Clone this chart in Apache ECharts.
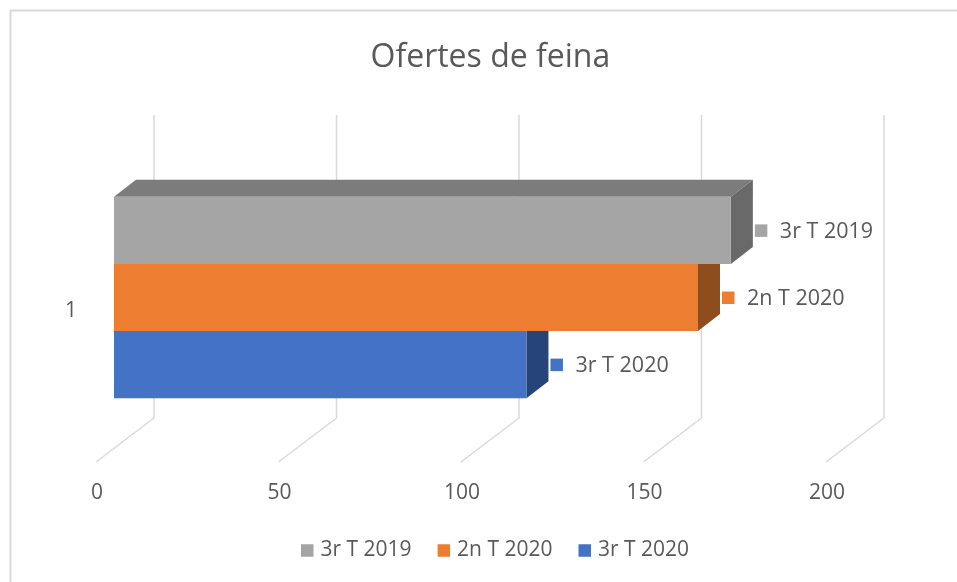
<!DOCTYPE html>
<html><head><meta charset="utf-8">
<style>html,body{margin:0;padding:0;background:#fff}#c{width:957px;height:582px}</style>
<script src="https://cdn.jsdelivr.net/npm/echarts@6/dist/echarts.min.js"></script>
</head><body><div id="c"></div>
<script>
const titleText = 'Ofertes de feina';
const categories = ['1'];
const ticks = [0, 50, 100, 150, 200];
const names = ['3r T 2019', '2n T 2020', '3r T 2020'];
const values2019Q3 = [169];
const values2020Q2 = [160];
const values2020Q3 = [113];
const FONT = '"Open Sans", sans-serif';
const TXT = '#595959';
const GRID = '#D9D9D9';

const chart = echarts.init(document.getElementById('c'), null, {renderer: 'canvas'});

function floorLines(params, api) {
  const p = api.coord([api.value(0), 0]);
  const band = api.size([0, 1])[1];
  const x = p[0], bottom = p[1] + band / 2, top = p[1] - band / 2;
  return {
    type: 'polyline',
    shape: {points: [[x, bottom], [x + 58, bottom - 44], [x + 58, top - 45]]},
    style: {stroke: GRID, lineWidth: 1.5, fill: null}, silent: true
  };
}

function bar3d(idx, front, top, side) {
  return function (params, api) {
    const band = api.size([0, 1])[1];
    const h = band / 4.5;
    const zero = api.coord([0, 0]);
    const end = api.coord([api.value(0), 0]);
    const sx = 18, sy = -13.5, dx = 22, dy = 17;
    const x0 = zero[0] + sx, x1 = end[0] + sx;
    const y0 = zero[1] + sy + (idx - 1.5) * h, y1 = y0 + h;
    const children = [
      {type: 'polygon', shape: {points: [[x0, y0], [x1, y0], [x1 + dx, y0 - dy], [x0 + dx, y0 - dy]]}, style: {fill: top}},
      {type: 'polygon', shape: {points: [[x1, y0], [x1 + dx, y0 - dy], [x1 + dx, y1 - dy], [x1, y1]]}, style: {fill: side}},
      {type: 'rect', shape: {x: x0, y: y0, width: x1 - x0, height: h}, style: {fill: front}},
      {type: 'rect', shape: {x: x1 + dx + 2, y: (y0 + y1) / 2 - 6, width: 12.5, height: 12.5}, style: {fill: front}},
      {type: 'text', x: x1 + dx + 27, y: (y0 + y1) / 2 + 1,
        style: {text: names[idx], fill: TXT, font: '21.5px ' + FONT, textAlign: 'left', textVerticalAlign: 'middle'}}
    ];
    return {type: 'group', children};
  };
}

function barSeries(idx, vals, front, top, side) {
  return {
    name: names[idx], type: 'custom', coordinateSystem: 'cartesian2d', clip: false, z: 3 - idx + 3,
    itemStyle: {color: front}, encode: {x: 0, y: 1},
    data: vals.map((v, i) => [v, i]), renderItem: bar3d(idx, front, top, side)
  };
}

chart.setOption({
  animation: false,
  backgroundColor: '#fff',
  title: {text: titleText, left: 365.5, top: 37,
    textStyle: {color: TXT, fontFamily: FONT, fontSize: 32, fontWeight: 'normal'}},
  grid: {left: 96, width: 730, top: 160, height: 302, containLabel: false},
  xAxis: {type: 'value', min: 0, max: 200, interval: 50,
    axisLine: {show: false}, axisTick: {show: false}, splitLine: {show: false},
    axisLabel: {color: TXT, fontFamily: FONT, fontSize: 21, margin: 21, padding: [0, 0, 0, 2], showMinLabel: true, showMaxLabel: true}},
  yAxis: {type: 'category', data: categories, inverse: true,
    axisLine: {show: false}, axisTick: {show: false}, splitLine: {show: false},
    axisLabel: {color: TXT, fontFamily: FONT, fontSize: 21, margin: 19, padding: [6, 0, 0, 0]}},
  legend: {data: names, left: 301, top: 540, icon: 'rect', itemWidth: 12.5, itemHeight: 12.5, itemGap: 26,
    textStyle: {color: TXT, fontFamily: FONT, fontSize: 21, padding: [0, 0, 0, 2]}, selectedMode: false, padding: 0},
  graphic: [
    {type: 'polyline', shape: {points: [[10.5, 582], [10.5, 10.5], [957, 10.5]]}, style: {fill: null, stroke: GRID, lineWidth: 2}, silent: true}
  ],
  series: [
    {name: 'grid', type: 'custom', coordinateSystem: 'cartesian2d', clip: false, z: 1,
      encode: {x: 0, y: 1}, data: ticks.map(t => [t, 0]), renderItem: floorLines},
    barSeries(0, values2019Q3, '#A5A5A5', '#7C7C7C', '#696969'),
    barSeries(1, values2020Q2, '#ED7D31', '#A0551F', '#8F4C1D'),
    barSeries(2, values2020Q3, '#4472C4', '#2F5597', '#264478')
  ]
});
</script></body></html>
